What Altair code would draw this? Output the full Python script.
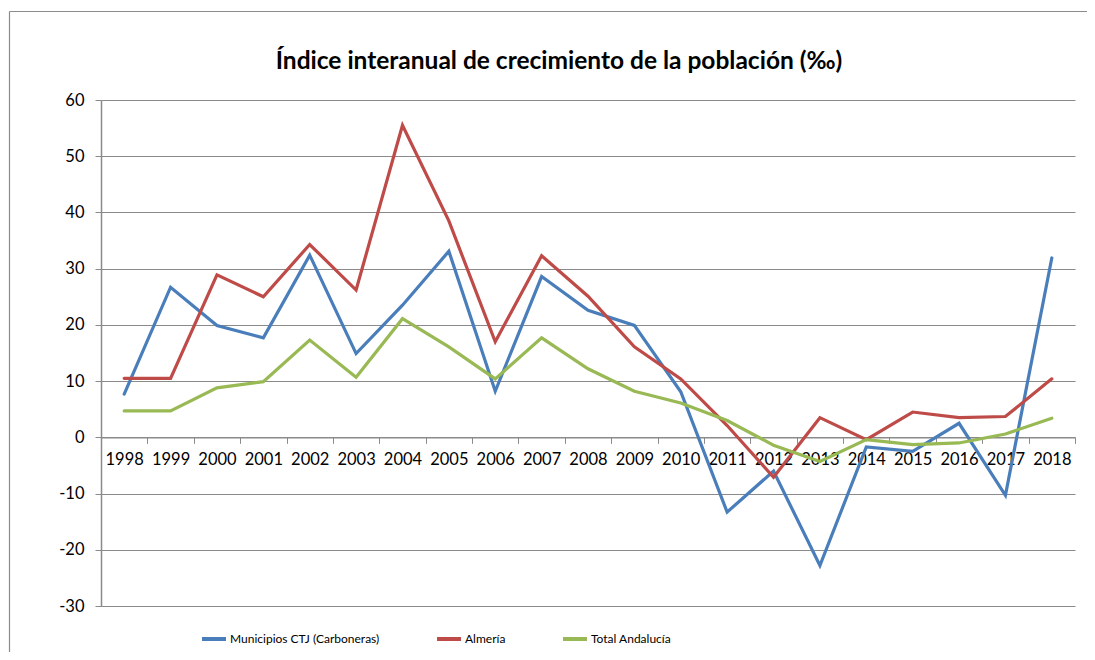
import altair as alt
import pandas as pd

years = [str(y) for y in range(1998, 2019)]
series_names = ["Municipios CTJ (Carboneras)", "Almería", "Total Andalucía"]
colors = ["#4A7EBB", "#BE4B48", "#98B954"]

municipios = [7.7, 26.7, 19.9, 17.7, 32.4, 14.9, 23.5, 33.1, 8.2, 28.6, 22.6,
              19.9, 8.1, -13.3, -6.0, -22.8, -1.7, -2.5, 2.5, -10.3, 31.9]
almeria = [10.5, 10.5, 28.9, 25.0, 34.3, 26.2, 55.5, 38.5, 17.0, 32.3, 25.1,
           16.1, 10.4, 2.1, -7.1, 3.5, -0.4, 4.5, 3.5, 3.7, 10.4]
andalucia = [4.7, 4.7, 8.8, 9.9, 17.3, 10.7, 21.1, 16.1, 10.4, 17.7, 12.2,
             8.2, 6.1, 3.0, -1.4, -4.3, -0.4, -1.3, -1.0, 0.6, 3.4]

y_ticks = [-30, -20, -10, 0, 10, 20, 30, 40, 50, 60]

rows = []
for name, vals in zip(series_names, [municipios, almeria, andalucia]):
    for i, (yr, v) in enumerate(zip(years, vals)):
        rows.append({"Año": yr, "Serie": name, "Valor": v, "orden": i})
df = pd.DataFrame(rows)

W, H = 974, 506
ymin, ymax = -30, 60
x_axis_offset = -H * (0 - ymin) / (ymax - ymin)

FONT = "Lato"
GRAY = "#8A8A8A"

lines = alt.Chart(df).mark_line(strokeWidth=3.2, strokeJoin="miter", strokeCap="round").encode(
    x=alt.X("Año:N", sort=years, title=None,
            scale=alt.Scale(type="band", paddingInner=0, paddingOuter=0),
            axis=alt.Axis(orient="bottom", offset=x_axis_offset, tickBand="extent",
                          labelAngle=0, labelFont=FONT, labelFontSize=16.5, labelColor="#000000",
                          labelPadding=8, tickSize=6, tickColor=GRAY, domainColor=GRAY,
                          domainWidth=1.5, grid=False)),
    y=alt.Y("Valor:Q", title=None,
            scale=alt.Scale(domain=[ymin, ymax], nice=False, zero=False),
            axis=alt.Axis(values=y_ticks, labelFont=FONT, labelFontSize=16.5, labelColor="#000000",
                          labelExpr="replace(datum.label, '\u2212', '-')",
                          labelPadding=11, tickSize=6, tickColor=GRAY, domainColor=GRAY,
                          domainWidth=1.5, gridColor=GRAY, gridWidth=1.2)),
    color=alt.Color("Serie:N", sort=series_names,
                    scale=alt.Scale(domain=series_names, range=colors),
                    legend=alt.Legend(title=None, orient="none", direction="horizontal",
                                      columns=3, legendX=99, legendY=525,
                                      symbolType="stroke", symbolSize=576,
                                      symbolStrokeWidth=4, labelOffset=2,
                                      columnPadding=49, labelFont=FONT, labelLimit=400,
                                      labelFontSize=12, labelColor="#000000")),
    order="orden:Q",
)

frame_src = pd.DataFrame({"a": [0]})
frame_left = alt.Chart(frame_src).mark_rule(stroke="#8C8C8C", strokeWidth=1.2).encode(
    x=alt.value(-91.5), y=alt.value(-88.5), y2=alt.value(800)
)
frame_top = alt.Chart(frame_src).mark_rule(stroke="#8C8C8C", strokeWidth=1.2).encode(
    x=alt.value(-91.5), x2=alt.value(W + 40), y=alt.value(-88.5)
)

chart = alt.layer(frame_left, frame_top, lines).properties(
    width=W, height=H,
    padding={"left": 93, "top": 92, "right": 12, "bottom": 46},
    autosize=alt.AutoSizeParams(type="none"),
    title=alt.TitleParams(
        "Índice interanual de crecimiento de la población (‰)",
        font=FONT, fontSize=24.5, fontWeight="bold", color="#000000",
        anchor="middle", frame="group", dx=-29, offset=-83, baseline="alphabetic"),
).configure_view(stroke=None)

chart.save("out.html", embed_options={"renderer": "svg", "actions": False})
